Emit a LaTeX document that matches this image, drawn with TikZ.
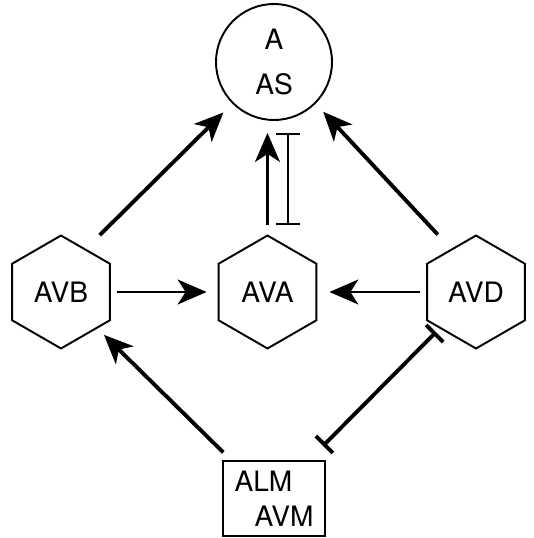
\documentclass[tikz,border=0pt]{standalone}
\usepackage{fontspec}
\setmainfont{TeX Gyre Heros}
\usetikzlibrary{arrows.meta,shapes.geometric}

\begin{document}
\begin{tikzpicture}[
    x=0.02cm, y=-0.02cm,
    hexnode/.style={draw, line width=1.1pt, regular polygon, regular polygon sides=6, shape border rotate=30, minimum size=2.26cm, inner sep=0pt, font=\fontsize{16}{19}\selectfont},
    circnode/.style={draw, circle, line width=1.1pt, minimum size=2.32cm, inner sep=0pt, align=center, font=\fontsize{16}{25.6}\selectfont},
    boxnode/.style={draw, line width=1.1pt, minimum width=2.04cm, minimum height=1.5cm, inner sep=0pt, align=left, font=\fontsize{16}{19.9}\selectfont},
    arrow/.style={-{Stealth[length=0.58cm, width=0.5cm, inset=0.16cm]}},
    blockline/.style={{Bar[width=0.48cm]}-{Bar[width=0.48cm]}}
]
\useasboundingbox (0,0) rectangle (534,538);

% Top
\node[circnode] (as) at (274,62) {A\\AS};

% Middle row
\node[hexnode] (avb) at (61,292) {AVB};
\node[hexnode] (ava) at (267.5,292) {AVA};
\node[hexnode] (avd) at (476,292) {AVD};

% Bottom
\node[boxnode] (avm) at (274,498.5) {ALM\\\hspace{0.4cm}AVM};

% Arrows to the top
\draw[arrow, line width=2.2pt, shorten <=0.39cm, shorten >=0.25cm] (avb.60) -- (as.225);
\draw[arrow, line width=2.2pt, shorten <=0.39cm, shorten >=0.22cm] (avd.120) -- (as.315);
\draw[arrow, line width=1.4pt, shorten <=0.18cm, shorten >=0.24cm] (ava.north) -- (ava.north |- as.south);
\draw[blockline, line width=1.3pt, shorten <=0.18cm, shorten >=0.24cm] ([xshift=0.41cm]ava.north) -- ([xshift=0.41cm]ava.north |- as.south);

% Middle arrows
\draw[arrow, line width=1.3pt, shorten <=0.13cm, shorten >=0.22cm] (avb.east) -- (ava.west);
\draw[arrow, line width=1.3pt, shorten <=0.13cm, shorten >=0.24cm] (avd.west) -- (ava.east);

% From the box
\draw[arrow, line width=2.2pt, shorten <=0.22cm, shorten >=0.18cm] ([xshift=0.18cm]avm.north west) -- (avb.-45);
\draw[blockline, line width=2.2pt, shorten <=0.4cm, shorten >=0.1cm] ([xshift=-0.34cm]avm.north east) -- (avd.-135);
\end{tikzpicture}
\end{document}
